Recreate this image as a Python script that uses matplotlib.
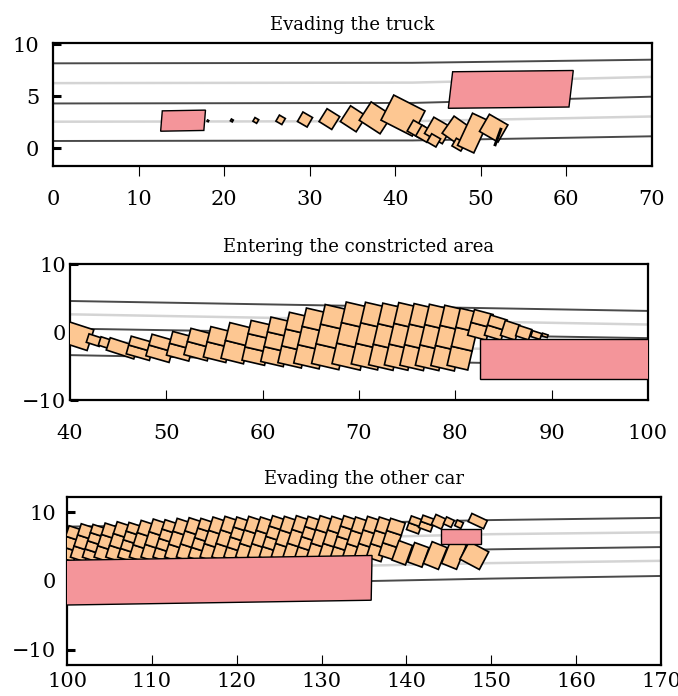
import numpy as np
import matplotlib
matplotlib.use("Agg")
import matplotlib.pyplot as plt
from matplotlib.patches import Rectangle
from matplotlib.transforms import Affine2D

plt.rcParams['font.family'] = ['DejaVu Serif']

# ---------------- data ----------------
titles = ["Evading the truck", "Entering the constricted area", "Evading the other car"]
xlims = [(0, 70), (40, 100), (100, 170)]
ylims = [(-1.7, 10.1), (-10, 10), (-12.2, 12.2)]
xticks = [[0, 10, 20, 30, 40, 50, 60, 70],
          [40, 50, 60, 70, 80, 90, 100],
          [100, 110, 120, 130, 140, 150, 160, 170]]
yticks = [[0, 5, 10], [-10, 0, 10], [-10, 0, 10]]

# lane markings (dark = lane borders, light = lane centres)
p1_lane_x = [0, 42, 70]
p1_lane_dark = [[8.15, 8.2, 8.5], [4.3, 4.35, 4.95], [0.7, 0.75, 1.15]]
p1_lane_light = [[6.25, 6.3, 6.85], [2.55, 2.6, 3.05]]
p2_lane_x = [40, 100]
p2_lane_dark = [[4.56, 3.1], [0.5, -0.9], [-3.4, -5.0]]
p2_lane_light = [[2.6, 1.1], [-1.4, -2.9]]
p3_lane_x = [100, 136, 150, 170]
p3_lane_dark = [[7.9, 8.5, 8.85, 9.17], [3.8, 4.1, 4.6, 4.93], [-0.4, 0.0, 0.35, 0.73]]
p3_lane_light = [[5.9, 6.4, 6.8, 7.07], [1.8, 2.25, 2.6, 2.93]]

# obstacles: centre x, centre y, length, width, angle (deg), skew (deg)
p1_obs_cx = [15.2, 53.5]
p1_obs_cy = [2.65, 5.65]
p1_obs_len = [5.05, 14.1]
p1_obs_wid = [1.95, 3.5]
p1_obs_ang = [1.0, 0.6]
p1_obs_skew = [5.6, 7.3]
p2_obs_cx = [92.6]
p2_obs_cy = [-3.95]
p2_obs_len = [20.0]
p2_obs_wid = [5.9]
p2_obs_ang = [0.0]
p2_obs_skew = [0.0]
p3_obs_cx = [117.4, 146.45]
p3_obs_cy = [0.1, 6.5]
p3_obs_len = [37.0, 4.7]
p3_obs_wid = [6.5, 2.2]
p3_obs_ang = [0.9, 0.0]
p3_obs_skew = [2.0, 0.0]

# occupancy boxes: centre x, centre y, width (x units), height (y units), angle, cells
p1_box_cx = [18.1, 20.9, 23.7, 26.6, 29.45, 32.3, 35.1, 37.7, 40.9,
             42.4, 43.4, 45.0, 44.5, 47.4, 47.4, 49.1, 51.5, 52.0]
p1_box_cy = [2.63, 2.67, 2.67, 2.73, 2.76, 2.8, 2.83, 2.92, 3.14,
             1.87, 1.4, 1.71, 0.76, 1.56, 0.35, 1.46, 1.93, 1.08]
p1_box_w = [0.15, 0.25, 0.5, 0.8, 1.3, 1.75, 2.2, 2.9, 4.1,
            1.5, 1.5, 2.4, 1.2, 3.0, 1.2, 2.1, 2.5, 0.15]
p1_box_h = [0.12, 0.2, 0.4, 0.67, 1.05, 1.45, 1.8, 2.1, 2.7,
            1.2, 1.2, 1.8, 0.9, 2.0, 0.85, 3.4, 1.9, 1.7]
p1_box_ang = [-30, -30, -30, -30, -30, -32, -33, -33, -27,
              -30, -30, -30, -30, -35, -30, -25, -30, -20]
p1_box_n = [1] * 18

p2_box_cx = [40.6, 42.5, 43.7, 45.4, 47.3, 49.4, 51.5, 53.4, 55.4, 57.3,
             59.5, 61.5, 63.4, 65.2, 67.2, 69.4, 71.3, 73.0, 74.6, 76.2,
             77.8, 79.4, 80.9, 82.6, 84.2, 85.7, 87.1, 88.4, 89.3]
p2_box_cy = [-0.5, -1.2, -1.6, -2.4, -2.4, -2.4, -2.1, -1.85, -1.85, -1.65,
             -1.6, -1.45, -1.2, -0.95, -0.75, -0.6, -0.6, -0.7, -0.65, -0.75,
             -0.8, -0.9, -1.05, 1.05, 0.65, 0.25, -0.1, -0.45, -0.5]
p2_box_w = [3.2, 1.4, 1.3, 3.0, 2.5, 2.5, 2.4, 2.5, 2.4, 2.4,
            2.4, 2.4, 2.5, 2.7, 2.9, 3.0, 2.8, 2.6, 2.5, 2.5,
            2.5, 2.5, 2.2, 2.0, 1.8, 1.6, 1.4, 1.0, 0.6]
p2_box_h = [3.2, 1.3, 1.3, 1.9, 2.7, 3.3, 3.6, 4.0, 4.6, 5.4,
            6.0, 6.7, 7.6, 8.3, 8.9, 9.3, 9.3, 9.3, 9.4, 9.3,
            9.2, 9.1, 8.6, 3.9, 3.1, 2.3, 1.6, 0.9, 0.4]
p2_box_ang = [-18, -18, -18, -18, -16, -16, -15, -15, -14, -14,
              -13, -13, -13, -13, -13, -13, -13, -13, -13, -13,
              -13, -13, -13, -15, -17, -18, -18, -18, -18]
p2_box_n = [1, 1, 1, 1, 2, 2, 2, 2, 2, 2,
            3, 3, 3, 3, 3, 3, 3, 3, 3, 3,
            3, 3, 3, 2, 2, 1, 1, 1, 1]

p3_box_cx = [100.5, 101.9, 103.3, 104.7, 106.1, 107.5, 108.9, 110.3, 111.7, 113.1,
             114.5, 115.9, 117.3, 118.7, 120.1, 121.5, 122.9, 124.3, 125.7, 127.1,
             128.5, 129.9, 131.3, 132.7, 134.1, 135.5, 136.9, 138.3,
             141.0, 142.4, 143.8, 145.0, 146.2, 148.4,
             139.5, 141.4, 143.4, 145.6, 148.0]
p3_box_cy = [5.4, 5.55, 5.5, 5.6, 5.7, 5.65, 5.8, 5.9, 5.85, 5.95,
             6.0, 5.95, 6.05, 6.1, 6.05, 6.1, 6.05, 6.15, 6.1, 6.15,
             6.1, 6.15, 6.1, 6.15, 6.05, 6.1, 6.05, 6.1,
             8.15, 8.35, 8.6, 8.55, 8.25, 8.7,
             4.1, 3.8, 3.7, 3.9, 3.7]
p3_box_w = [1.8] * 28 + [1.5, 1.5, 1.3, 1.0, 0.8, 2.0,
                         1.7, 1.8, 1.9, 1.9, 2.6]
p3_box_h = [4.8, 5.1, 5.0, 5.2, 5.4, 5.3, 5.6, 5.8, 5.7, 5.9,
            6.0, 5.9, 6.1, 6.2, 6.1, 6.2, 6.1, 6.3, 6.2, 6.3,
            6.2, 6.3, 6.2, 6.3, 6.1, 6.2, 6.1, 5.6,
            2.1, 1.9, 1.6, 1.1, 0.9, 1.3,
            3.0, 3.0, 3.4, 3.8, 2.9]
p3_box_ang = [-18] * 28 + [-20, -20, -25, -25, -25, -25,
                           -20, -20, -22, -22, -28]
p3_box_n = [3, 3, 4, 3, 3, 4, 3, 3, 4, 3,
            3, 4, 3, 3, 4, 3, 3, 4, 3, 3,
            4, 3, 3, 4, 3, 3, 3, 3,
            2, 2, 1, 1, 1, 1,
            1, 1, 1, 1, 1]

# ---------------- styling ----------------
FIG_W, FIG_H = 678, 696
axes_px = [(53, 652, 43, 166), (70, 648, 264, 400), (67, 661, 497, 665)]
ytick_pad = [10, 3, 8]
xtick_pad = [10, 17, 5]
xtick_dir = ['out', 'in', 'in']
col_box = '#FDC792'
col_obs = '#F4959A'
col_dark = '#4A4A4A'
col_light = '#D4D4D4'

panels = [
    (p1_lane_x, p1_lane_dark, p1_lane_light,
     (p1_obs_cx, p1_obs_cy, p1_obs_len, p1_obs_wid, p1_obs_ang, p1_obs_skew),
     (p1_box_cx, p1_box_cy, p1_box_w, p1_box_h, p1_box_ang, p1_box_n)),
    (p2_lane_x, p2_lane_dark, p2_lane_light,
     (p2_obs_cx, p2_obs_cy, p2_obs_len, p2_obs_wid, p2_obs_ang, p2_obs_skew),
     (p2_box_cx, p2_box_cy, p2_box_w, p2_box_h, p2_box_ang, p2_box_n)),
    (p3_lane_x, p3_lane_dark, p3_lane_light,
     (p3_obs_cx, p3_obs_cy, p3_obs_len, p3_obs_wid, p3_obs_ang, p3_obs_skew),
     (p3_box_cx, p3_box_cy, p3_box_w, p3_box_h, p3_box_ang, p3_box_n)),
]


def add_rect(ax, cx, cy, w, h, ang, k, off=0.0, skew=0.0, **kw):
    t = (Affine2D().scale(w, h / k).translate(0, off / k).skew_deg(skew, 0)
         .rotate_deg(ang).scale(1, k).translate(cx, cy))
    ax.add_patch(Rectangle((-0.5, -0.5), 1, 1, transform=t + ax.transData, **kw))


fig = plt.figure(figsize=(FIG_W / 100, FIG_H / 100), dpi=100)

for i, (lx, ldark, llight, obs, boxes) in enumerate(panels):
    L, R, T, B = axes_px[i]
    ax = fig.add_axes([L / FIG_W, 1 - B / FIG_H, (R - L) / FIG_W, (B - T) / FIG_H])
    x0, x1 = xlims[i]
    y0, y1 = ylims[i]
    ax.set_xlim(x0, x1)
    ax.set_ylim(y0, y1)
    sx = (R - L) / (x1 - x0)
    sy = (B - T) / (y1 - y0)
    k = sx / sy

    for ly in llight:
        ax.plot(lx, ly, color=col_light, lw=1.8, zorder=1, solid_capstyle='butt')
    for ly in ldark:
        ax.plot(lx, ly, color=col_dark, lw=1.4, zorder=1.1, solid_capstyle='butt')

    bcx, bcy, bw, bh, bang, bn = boxes
    for cx, cy, w, h, ang, n in zip(bcx, bcy, bw, bh, bang, bn):
        hc = h / n
        for j in range(n):
            off = -h / 2 + (j + 0.5) * hc
            add_rect(ax, cx, cy, w, hc, ang, k, off=off, facecolor=col_box,
                     edgecolor='black', linewidth=1.2, zorder=3)

    ocx, ocy, olen, owid, oang, oskew = obs
    for cx, cy, ln, wd, ang, sk in zip(ocx, ocy, olen, owid, oang, oskew):
        add_rect(ax, cx, cy, ln, wd, ang, k, skew=sk, facecolor=col_obs,
                 edgecolor='black', linewidth=1.0, zorder=4)

    ax.set_xticks(xticks[i])
    ax.set_yticks(yticks[i])
    ax.tick_params(axis='x', direction=xtick_dir[i], length=7, width=0.8,
                   labelsize=15, pad=xtick_pad[i])
    ax.tick_params(axis='y', direction='in', length=5.5, width=2.2,
                   labelsize=15, pad=ytick_pad[i])
    xt = ax.xaxis.get_major_ticks()
    xt[0].tick1line.set_visible(False)
    xt[-1].tick1line.set_visible(False)
    for s in ax.spines.values():
        s.set_linewidth(1.6)
    ax.set_title(titles[i], fontsize=13, pad=9)

fig.savefig('out.png', dpi=100)
